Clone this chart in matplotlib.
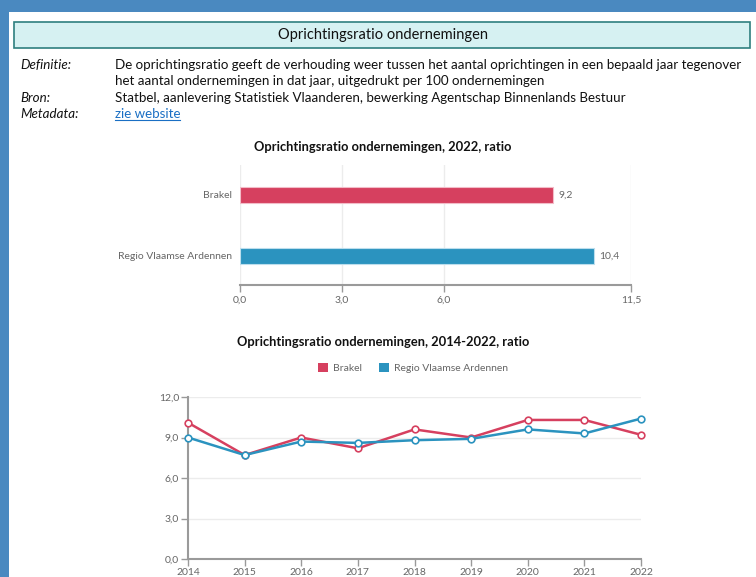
"""Oprichtingsratio ondernemingen -- Brakel vs Regio Vlaamse Ardennen."""

import matplotlib.pyplot as plt
from matplotlib.patches import Patch, Rectangle

W, H = 756, 577

BG_BLUE = "#4a89c0"
RED = "#d6405f"
BLUE = "#2b93bf"
GRID = "#ececec"
AXIS_GRAY = "#9a9a9a"
LABEL_GRAY = "#666666"

# --- data -------------------------------------------------------------
bar_categories = ["Brakel", "Regio Vlaamse Ardennen"]
bar_values_2022 = [9.2, 10.4]
bar_ticks = [0.0, 3.0, 6.0, 11.5]

years = [2014, 2015, 2016, 2017, 2018, 2019, 2020, 2021, 2022]
brakel = [10.1, 7.7, 9.0, 8.2, 9.6, 9.0, 10.3, 10.3, 9.2]
regio = [9.0, 7.7, 8.7, 8.6, 8.8, 8.9, 9.6, 9.3, 10.4]
line_yticks = [0.0, 3.0, 6.0, 9.0, 12.0]


def fmt(v):
    return f"{v:.1f}".replace(".", ",")


def rect(left, top, right, bottom):
    """Pixel box -> figure fraction [l, b, w, h]."""
    return [left / W, 1 - bottom / H, (right - left) / W, (bottom - top) / H]


def fx(x):
    return x / W


def fy(y):
    return 1 - y / H


plt.rcParams["font.family"] = ["Lato", "DejaVu Sans"]

fig = plt.figure(figsize=(W / 100, H / 100), dpi=100)
fig.patch.set_facecolor(BG_BLUE)

# white panel and header box
fig.patches.append(Rectangle((fx(9), 0), 1 - fx(9), fy(12), transform=fig.transFigure,
                             facecolor="white", edgecolor="none", zorder=-2))
fig.patches.append(Rectangle((fx(14), fy(48)), fx(750) - fx(14), fy(22) - fy(48),
                             transform=fig.transFigure, facecolor="#d6f1f2",
                             edgecolor="#2f7f7f", linewidth=1.2, zorder=-1))
fig.text(fx(383), fy(35), "Oprichtingsratio ondernemingen", ha="center", va="center",
         fontsize=10.5, color="#111111")

# metadata block
meta_font = dict(fontsize=9.6, color="#111111", va="center")
fig.text(fx(20), fy(65), "Definitie:", style="italic", **meta_font)
fig.text(fx(115), fy(65), "De oprichtingsratio geeft de verhouding weer tussen het aantal "
         "oprichtingen in een bepaald jaar tegenover", **meta_font)
fig.text(fx(115), fy(81), "het aantal ondernemingen in dat jaar, uitgedrukt per 100 "
         "ondernemingen", **meta_font)
fig.text(fx(20), fy(98), "Bron:", style="italic", **meta_font)
fig.text(fx(115), fy(98), "Statbel, aanlevering Statistiek Vlaanderen, bewerking Agentschap "
         "Binnenlands Bestuur", **meta_font)
fig.text(fx(20), fy(114), "Metadata:", style="italic", **meta_font)
fig.text(fx(115), fy(114), "zie website", fontsize=9.6, color="#1a6fc4", va="center")
fig.add_artist(plt.Line2D([fx(115), fx(180)], [fy(120), fy(120)],
                          transform=fig.transFigure, color="#1a6fc4", linewidth=0.8))

# --- bar chart ---------------------------------------------------------
ax_b = fig.add_axes(rect(240, 165, 631, 285))
pos = list(range(len(bar_categories)))
ax_b.barh(pos, bar_values_2022, height=0.26, color=[RED, BLUE],
          edgecolor=["#f2bcc8", "#bcdeed"], linewidth=0.8, zorder=3)
for p, v in zip(pos, bar_values_2022):
    ax_b.annotate(fmt(v), (v, p), xytext=(4, 0), textcoords="offset points",
                  va="center", ha="left", fontsize=7.5, color=LABEL_GRAY)
ax_b.set_xlim(0, 11.5)
ax_b.set_ylim(1.475, -0.49)
ax_b.set_yticks(pos, bar_categories)
ax_b.set_xticks(bar_ticks, [fmt(t) for t in bar_ticks])
ax_b.tick_params(axis="y", length=0, pad=6, labelsize=7.5, labelcolor=LABEL_GRAY)
ax_b.tick_params(axis="x", length=5, width=1, color=AXIS_GRAY, pad=3,
                 labelsize=7.5, labelcolor=LABEL_GRAY)
ax_b.grid(axis="x", color=GRID, linewidth=1, zorder=0)
for side in ("top", "right", "left"):
    ax_b.spines[side].set_visible(False)
ax_b.spines["bottom"].set_color(AXIS_GRAY)
ax_b.spines["bottom"].set_linewidth(1.5)
ax_b.set_facecolor("none")
fig.text(fx(383), fy(147), "Oprichtingsratio ondernemingen, 2022, ratio", ha="center",
         va="center", fontsize=9.3, fontweight="bold", color="#111111")

# --- line chart --------------------------------------------------------
ax_l = fig.add_axes(rect(188, 397, 641, 559))
for series, color, name in ((brakel, RED, "Brakel"), (regio, BLUE, "Regio Vlaamse Ardennen")):
    ax_l.plot(years, series, color=color, linewidth=1.8, marker="o", markersize=4.8,
              markerfacecolor="white", markeredgecolor=color, markeredgewidth=1.2,
              label=name, zorder=3, clip_on=False)
ax_l.set_xlim(years[0], years[-1])
ax_l.set_ylim(0, 12)
ax_l.set_xticks(years, [str(y) for y in years])
ax_l.set_yticks(line_yticks, [fmt(t) for t in line_yticks])
ax_l.tick_params(length=5, width=1, color=AXIS_GRAY, labelsize=7.5, labelcolor=LABEL_GRAY,
                 pad=1.5)
ax_l.grid(axis="y", color=GRID, linewidth=1, zorder=0)
for side in ("top", "right"):
    ax_l.spines[side].set_visible(False)
for side in ("left", "bottom"):
    ax_l.spines[side].set_color(AXIS_GRAY)
    ax_l.spines[side].set_linewidth(1.5)
ax_l.set_facecolor("none")
fig.text(fx(383), fy(342), "Oprichtingsratio ondernemingen, 2014-2022, ratio", ha="center",
         va="center", fontsize=9.3, fontweight="bold", color="#111111")
fig.legend(handles=[Patch(facecolor=RED, label="Brakel"),
                    Patch(facecolor=BLUE, label="Regio Vlaamse Ardennen")],
           loc="center", bbox_to_anchor=(fx(413), fy(368)), ncol=2, frameon=False,
           fontsize=7.5, labelcolor=LABEL_GRAY, handlelength=1.0, handleheight=1.0,
           handletextpad=0.5, columnspacing=1.6)

fig.savefig("out.png", dpi=100, facecolor=fig.get_facecolor())
